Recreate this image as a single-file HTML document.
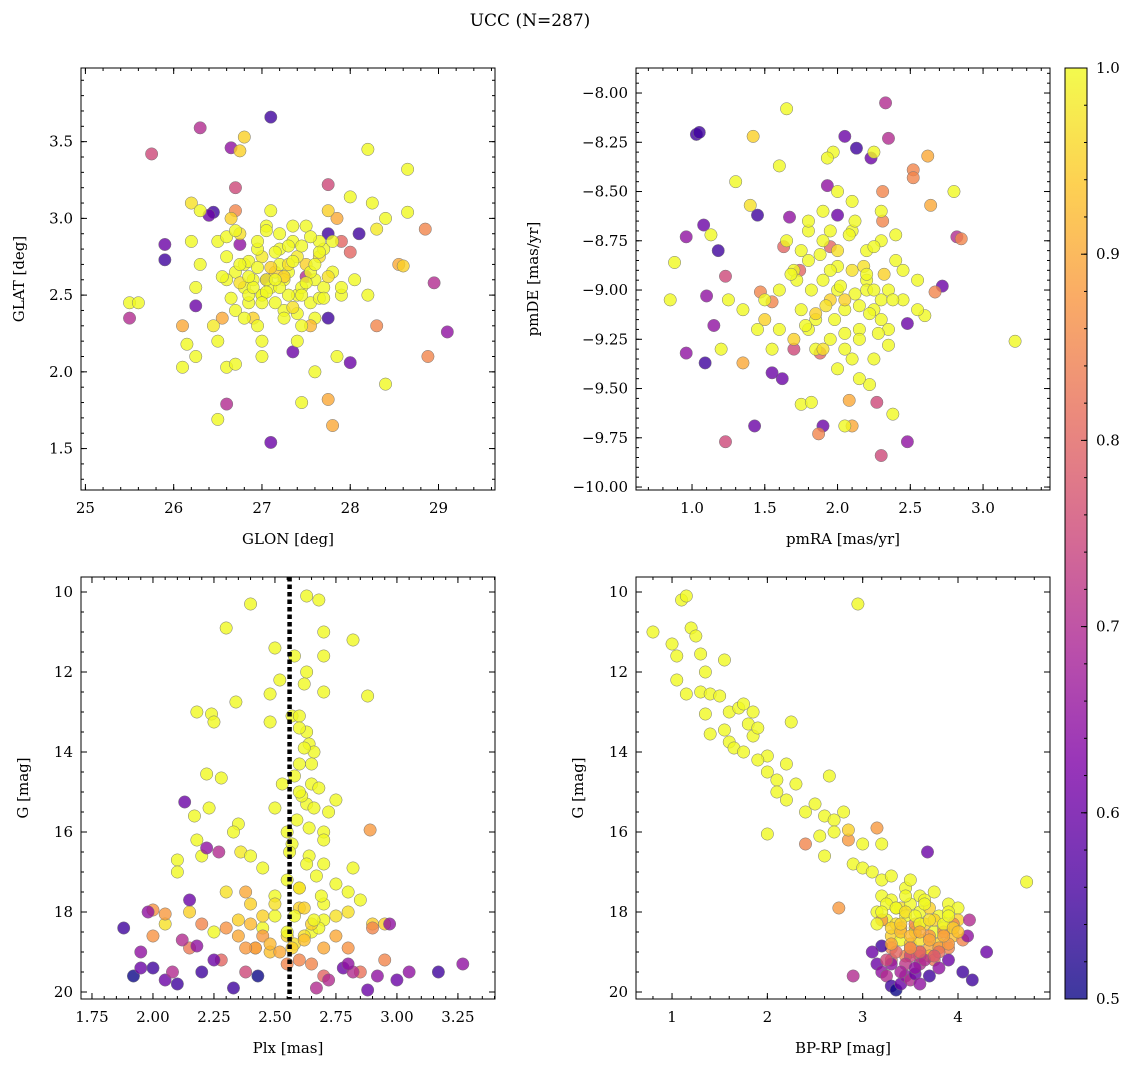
<!DOCTYPE html>
<html><head><meta charset="utf-8">
<style>
body{margin:0;background:#fff;}
svg{display:block;font-family:"DejaVu Serif","Liberation Serif",serif;}
</style></head>
<body>
<svg id="chart" width="1136" height="1067">
<text x="530" y="26" font-size="17" text-anchor="middle">UCC (N=287)</text>
<defs>
<linearGradient id="plasma" x1="0" y1="1" x2="0" y2="0">
<stop offset="0" stop-color="#0d0887"/><stop offset="0.125" stop-color="#4c02a1"/><stop offset="0.25" stop-color="#7e03a8"/><stop offset="0.375" stop-color="#a92395"/><stop offset="0.5" stop-color="#cc4778"/><stop offset="0.625" stop-color="#e66c5c"/><stop offset="0.75" stop-color="#f89540"/><stop offset="0.875" stop-color="#fdc527"/><stop offset="1" stop-color="#f0f921"/>
</linearGradient>
</defs>
<g id="panels"></g>
<rect x="1065" y="68" width="22" height="931" fill="url(#plasma)" opacity="0.8"/>
<rect x="1065" y="68" width="22" height="931" fill="none" stroke="#000" stroke-width="1"/>
<g id="cbar"></g>
</svg>
<script>
// ---- Panel 1: GLON vs GLAT ----
const p1x=[27.1,26.3,25.75,26.65,26.7,25.9,25.9,26.25,25.5,26.6,27.1,27.35,27.75,27.75,28.0,28.1,29.1,28.95,27.75,27.5,26.45,26.4,27.05,26.75,
28.3,28.85,28.88,27.8,27.75,26.1,28.0,27.9,26.55,26.7,27.85,28.55,
25.5,25.6,26.1,26.15,26.25,26.5,26.45,26.5,26.6,26.7,27.0,26.8,26.75,28.2,28.65,28.0,28.25,28.65,28.4,28.3,28.6,27.45,27.6,27.85,28.4,28.05,28.2,27.9,26.2,26.3,26.3,26.2,26.25,
26.7,26.8,26.9,27.0,27.1,27.2,27.3,27.4,27.5,27.6,27.7,26.75,26.85,26.95,27.05,27.15,27.25,27.35,27.45,27.55,27.65,27.8,26.6,26.9,27.0,27.2,27.3,27.4,27.6,27.7,26.65,26.8,27.1,27.25,27.5,27.75,26.95,27.15,27.35,27.55,26.7,27.0,27.2,27.45,27.65,26.85,27.05,27.3,26.6,27.9,26.5,27.0,27.4,27.8];
const p1y=[3.66,3.59,3.42,3.46,3.2,2.83,2.73,2.43,2.35,1.79,1.54,2.13,2.35,2.9,2.06,2.9,2.26,2.58,3.22,2.62,3.04,3.02,2.6,2.83,
2.3,2.93,2.1,1.65,1.82,2.3,2.78,2.85,2.35,3.05,3.0,2.7,
2.45,2.45,2.03,2.18,2.1,1.69,2.3,2.2,2.03,2.05,2.1,3.53,3.44,3.45,3.32,3.14,3.1,3.04,3.0,2.93,2.69,1.8,2.0,2.1,1.92,2.6,2.5,2.5,3.1,3.05,2.7,2.85,2.55,
2.65,2.7,2.6,2.75,2.55,2.8,2.65,2.5,2.7,2.6,2.55,2.9,2.45,2.8,2.95,2.65,2.4,2.85,2.55,2.45,2.75,2.65,2.6,2.35,2.5,2.9,2.5,2.75,2.35,2.8,3.0,2.55,3.05,2.6,2.95,3.05,2.3,2.45,2.95,2.3,2.4,2.2,2.7,2.3,2.85,2.5,2.6,2.7,2.75,2.55,2.85,2.5,2.2,2.85];
const p1p=[0.55,0.7,0.75,0.65,0.75,0.6,0.55,0.6,0.7,0.7,0.6,0.6,0.55,0.55,0.6,0.55,0.65,0.7,0.75,0.7,0.55,0.6,0.65,0.65,
0.85,0.85,0.85,0.9,0.9,0.9,0.8,0.8,0.9,0.85,0.9,0.9,
1,1,1,1,1,1,0.98,1,1,1,1,0.95,0.95,1,1,1,1,1,1,0.98,0.95,1,1,1,1,1,1,1,0.97,1,1,1,1,
1,1,1,0.98,1,1,1,1,0.95,1,1,0.97,1,1,1,0.95,1,1,1,1,0.97,1,1,0.95,1,1,1,0.98,1,1,0.95,1,1,1,1,0.95,1,1,1,0.92,1,1,1,1,1,1,1,0.97,1,1,1,1,1,1];
const p1xExtra=[26.55,26.65,26.75,26.85,26.95,27.05,27.15,27.25,27.35,27.45,27.55,27.65,27.75,26.6,26.7,26.8,26.9,27.0,27.1,27.2,27.3,27.4,27.5,27.6,27.7,26.95,27.15,27.35,26.75,27.55,27.25,27.05,26.85,27.45,27.65];
const p1yExtra=[2.62,2.48,2.58,2.72,2.68,2.52,2.78,2.62,2.72,2.82,2.65,2.48,2.62,2.88,2.92,2.35,2.55,2.45,2.68,2.55,2.82,2.38,2.58,2.7,2.48,2.85,2.6,2.42,2.7,2.88,2.35,2.92,2.62,2.5,2.78];
const p1pExtra=[1,1,0.97,1,1,1,1,0.95,1,1,1,1,0.97,1,1,1,1,1,0.95,1,1,1,1,1,1,1,1,0.97,1,1,1,1,1,1,1];

// ---- Panel 2: pmRA vs pmDE ----
const p2x=[1.03,1.05,2.33,2.05,2.13,2.23,2.35,1.08,0.96,1.1,1.15,1.09,0.96,1.62,1.55,1.45,1.67,1.93,2.0,2.48,2.48,1.9,2.72,2.82,1.43,1.23,1.23,2.27,2.3,1.18,1.7,
2.52,2.52,2.62,2.85,2.67,2.31,2.31,1.55,1.63,1.88,1.87,2.08,2.1,2.64,1.35,1.47,1.74,1.95,
1.65,1.42,1.6,1.97,1.93,2.25,2.8,0.85,0.88,1.13,1.2,1.3,1.4,3.22,2.55,2.6,2.55,2.05,1.75,2.38,2.22,1.82,
1.7,1.8,1.9,2.0,2.1,2.2,2.3,2.4,1.75,1.85,1.95,2.05,2.15,2.25,2.35,1.65,1.8,1.9,2.0,2.1,2.2,2.3,2.45,1.7,1.85,1.95,2.05,2.15,2.25,1.6,1.8,2.0,2.2,2.35,1.9,2.1,2.3,1.35,1.45,1.5,1.25,1.55,2.45,2.0,2.15];
const p2y=[-8.21,-8.2,-8.05,-8.22,-8.28,-8.33,-8.23,-8.67,-8.73,-9.03,-9.18,-9.37,-9.32,-9.45,-9.42,-8.62,-8.63,-8.47,-8.62,-9.17,-9.77,-9.69,-8.98,-8.73,-9.69,-8.93,-9.77,-9.57,-9.84,-8.8,-9.3,
-8.39,-8.43,-8.32,-8.74,-9.01,-8.5,-8.65,-9.06,-8.78,-9.32,-9.73,-9.56,-9.69,-8.57,-9.37,-9.01,-8.9,-8.78,
-8.08,-8.22,-8.37,-8.3,-8.33,-8.3,-8.5,-9.05,-8.86,-8.72,-9.3,-8.45,-8.57,-9.26,-8.95,-9.13,-9.1,-9.69,-9.58,-9.63,-9.48,-9.57,
-8.9,-8.85,-8.95,-9.0,-8.9,-8.95,-9.05,-8.85,-9.1,-9.15,-9.05,-9.1,-9.2,-9.1,-9.0,-8.75,-8.7,-8.75,-8.8,-8.7,-8.8,-8.75,-8.9,-9.25,-9.3,-9.25,-9.3,-9.25,-9.35,-9.0,-9.2,-9.4,-9.0,-9.2,-8.6,-8.55,-8.6,-9.1,-9.2,-9.15,-9.05,-9.3,-9.05,-8.5,-9.45];
const p2p=[0.55,0.55,0.7,0.6,0.55,0.6,0.7,0.6,0.65,0.65,0.65,0.55,0.65,0.6,0.6,0.55,0.65,0.65,0.6,0.6,0.65,0.6,0.6,0.7,0.6,0.75,0.75,0.75,0.75,0.55,0.75,
0.85,0.85,0.9,0.85,0.85,0.85,0.85,0.85,0.8,0.8,0.85,0.9,0.9,0.9,0.9,0.85,0.8,0.8,
1,0.95,1,1,1,1,1,1,1,1,1,1,0.97,1,1,1,1,1,1,1,1,1,
1,1,1,1,0.97,1,1,1,1,1,0.95,1,1,1,1,1,1,1,0.97,1,1,1,1,0.95,1,1,1,1,1,1,1,1,1,1,1,1,1,1,1,0.95,1,1,1,1,1];
const p2xExtra=[1.72,1.82,1.92,2.02,2.12,2.22,2.32,1.78,1.88,1.98,2.08,2.18,2.28,2.38,1.75,1.85,1.95,2.05,2.15,2.25,2.35,1.68,1.9,2.0,2.1,2.2,2.3,1.8,1.95,2.05,2.12,2.25,1.6,2.4,1.5];
const p2yExtra=[-8.95,-9.0,-9.08,-8.98,-9.02,-9.12,-8.92,-9.18,-8.82,-9.15,-8.72,-8.88,-9.22,-9.05,-8.8,-9.12,-8.7,-9.22,-9.08,-8.78,-9.28,-8.92,-9.3,-8.88,-9.35,-8.92,-9.15,-8.65,-8.9,-9.05,-8.65,-9.0,-9.2,-8.72,-9.05];
const p2pExtra=[1,1,0.97,1,1,1,0.95,1,1,1,1,0.97,1,1,1,0.95,1,1,1,1,1,1,0.97,1,1,1,1,1,1,0.95,1,1,1,1,1];

// ---- Panel 3: Plx vs G ----
const p3x=[2.63,2.68,2.4,2.3,2.7,2.5,2.58,2.7,2.82,2.52,2.63,2.62,2.7,2.48,2.88,2.34,2.18,2.24,2.25,2.48,2.57,2.6,2.63,2.64,2.66,2.6,2.22,2.28,2.53,2.65,2.63,2.75,2.72,2.17,2.23,2.5,2.35,2.7,2.18,2.1,2.2,2.33,2.36,2.4,2.1,2.82,2.57,2.64,2.7,2.55,
2.3,2.4,2.5,2.6,2.7,2.8,2.9,2.45,2.55,2.65,2.75,2.35,2.25,2.85,2.95,2.5,2.6,2.7,2.42,2.58,2.68,2.15,2.05,2.48,2.62,
2.89,2.38,2.0,2.05,2.2,2.3,2.45,2.75,2.9,2.8,2.0,2.28,2.55,2.65,2.7,2.85,2.6,2.42,2.95,2.15,
1.88,1.92,1.95,1.98,2.0,2.05,2.08,2.1,2.12,2.15,2.18,2.2,2.25,2.33,2.38,2.43,2.67,2.72,2.78,2.82,2.88,2.92,2.97,3.0,3.05,3.17,3.27,2.13,2.22,2.27,2.8,1.95];
const p3y=[10.1,10.2,10.3,10.9,11.0,11.4,11.6,11.6,11.2,12.2,12.0,12.3,12.5,12.55,12.6,12.75,13.0,13.05,13.25,13.25,13.1,13.1,13.5,13.8,14.0,14.3,14.55,14.65,14.8,14.8,15.3,15.2,15.5,15.6,15.4,15.4,15.8,16.0,16.2,16.7,16.6,16.0,16.5,16.6,17.0,16.9,16.3,16.6,16.8,17.2,
17.5,17.8,18.1,17.9,18.2,18.0,18.3,18.4,18.6,18.5,18.1,18.2,18.5,17.7,18.3,17.6,17.4,17.8,18.9,18.8,18.4,18.0,18.3,19.0,18.6,
15.95,17.5,17.95,18.05,18.3,18.4,18.6,18.6,18.4,18.9,18.6,19.2,19.3,19.3,19.6,19.5,19.2,18.9,19.2,18.9,
18.4,19.6,19.0,18.0,19.4,19.7,19.5,19.8,18.7,17.7,18.85,19.5,19.2,19.9,19.5,19.6,19.9,19.7,19.4,19.5,19.95,19.6,18.3,19.7,19.5,19.5,19.3,15.25,16.4,16.5,19.3,19.4];
const p3p=[1,1,1,1,1,1,1,1,1,1,1,1,1,1,1,1,1,1,1,1,1,1,1,1,1,1,1,1,1,1,1,1,1,1,1,1,1,1,1,1,1,1,0.98,1,1,1,1,1,1,1,
0.97,0.95,1,0.95,1,0.97,0.95,1,0.95,1,0.97,0.95,1,1,0.95,1,1,1,0.93,0.97,1,0.95,0.97,0.93,0.97,
0.88,0.9,0.87,0.88,0.85,0.87,0.88,0.9,0.85,0.87,0.87,0.8,0.85,0.85,0.8,0.82,0.85,0.88,0.85,0.83,
0.55,0.5,0.65,0.65,0.55,0.6,0.7,0.55,0.7,0.6,0.65,0.55,0.6,0.55,0.75,0.5,0.7,0.7,0.6,0.7,0.6,0.65,0.65,0.6,0.65,0.55,0.65,0.6,0.65,0.7,0.65,0.6];
const p3xExtra=[2.6,2.62,2.65,2.58,2.68,2.61,2.66,2.59,2.64,2.7,2.56,2.63,2.67,2.6,2.69,2.62,2.58,2.65,2.5,2.45,2.4,2.35,2.55,2.62,2.7,2.52,2.48,2.57,2.66,2.75,2.8,2.6,2.45,2.55,2.38];
const p3yExtra=[13.4,13.9,14.3,14.6,14.9,15.1,15.4,15.7,15.9,16.2,16.5,16.8,17.1,17.4,17.6,17.9,18.1,18.3,17.8,18.1,18.3,18.6,18.5,18.7,18.9,19.0,18.8,18.9,18.2,17.3,17.5,15.0,16.9,16.0,18.9];
const p3pExtra=[1,1,1,1,1,1,1,1,1,1,1,1,1,0.97,1,0.95,1,0.95,0.97,0.95,0.92,0.9,1,0.93,0.9,0.9,0.92,0.95,1,1,1,1,1,1,0.88];

// ---- Panel 4: BP-RP vs G ----
const p4x=[0.8,1.0,1.05,1.1,1.15,1.2,1.25,1.05,1.15,1.3,1.35,1.3,1.4,1.5,1.55,1.6,1.35,1.4,1.55,1.7,1.75,1.8,1.85,1.6,1.65,1.75,1.85,1.9,2.0,2.25,2.95,1.9,2.0,2.1,2.2,2.1,2.2,2.3,2.4,2.5,2.65,2.6,2.7,2.8,2.0,2.4,2.55,2.6,2.7,2.85,2.85,3.0,3.15,3.2,2.9,3.0,3.1,3.2,3.3,3.45,3.5,3.6,3.75,3.9,4.0,4.72,
3.2,3.3,3.4,3.5,3.6,3.7,3.8,3.9,4.0,3.25,3.35,3.45,3.55,3.65,3.75,3.85,3.95,3.3,3.4,3.5,3.6,3.7,3.8,3.35,3.45,3.55,3.65,3.15,3.5,3.7,
3.3,3.45,3.6,3.75,3.9,4.05,3.2,3.4,3.55,3.7,3.85,3.5,2.75,3.3,3.6,3.95,
3.2,3.15,3.2,3.25,3.3,3.35,3.4,3.45,3.5,3.55,3.6,3.7,3.8,3.9,4.05,4.15,4.3,2.9,3.1,3.3,3.6,3.68,4.1,4.12];
const p4y=[11.0,11.3,11.6,10.2,10.1,10.9,11.1,12.2,12.55,11.55,12.0,12.5,12.55,12.6,11.7,13.0,13.05,13.55,13.45,12.9,12.8,13.3,13.0,13.75,13.9,14.0,13.6,13.4,14.1,13.25,10.3,14.2,14.5,14.7,14.3,15.0,15.2,14.8,15.5,15.3,14.6,15.6,15.7,15.5,16.05,16.3,16.1,16.6,16.0,16.2,15.95,16.3,15.9,16.3,16.8,16.9,17.0,17.2,17.1,17.4,17.2,17.6,17.5,17.8,17.9,17.25,
17.6,17.7,17.9,17.8,18.0,17.9,18.1,18.0,18.2,18.2,18.3,18.1,18.4,18.3,18.5,18.4,18.6,18.6,18.7,18.8,18.7,18.9,18.8,17.9,17.6,18.5,17.7,18.0,19.0,19.1,
18.9,19.1,19.0,19.2,18.9,18.7,18.2,18.4,18.3,18.6,18.5,18.9,17.9,19.2,19.1,18.3,
18.85,19.3,19.5,19.6,19.85,19.95,19.8,19.6,19.7,19.55,19.8,19.6,19.4,19.2,19.5,19.7,19.0,19.6,19.0,19.3,19.3,16.5,18.6,18.2];
const p4p=[1,1,1,1,1,1,1,1,1,1,1,1,1,1,1,1,1,1,1,1,1,1,1,1,1,1,1,1,1,1,1,1,1,1,1,1,1,1,1,1,1,1,1,1,1,0.85,1,1,1,0.88,0.95,1,0.88,1,1,1,1,1,1,1,1,1,1,1,1,1,
1,1,0.97,1,1,0.95,1,1,0.95,1,0.97,1,1,0.95,1,0.97,0.93,0.95,1,0.93,0.97,0.9,0.95,1,1,0.97,1,1,0.9,0.93,
0.85,0.85,0.85,0.83,0.85,0.85,0.88,0.87,0.85,0.87,0.85,0.8,0.88,0.8,0.82,0.85,
0.55,0.6,0.65,0.7,0.55,0.5,0.6,0.65,0.7,0.6,0.65,0.55,0.65,0.6,0.55,0.55,0.6,0.7,0.6,0.65,0.7,0.6,0.65,0.7];
const p4xExtra=[3.25,3.35,3.45,3.55,3.65,3.75,3.85,3.95,3.3,3.4,3.5,3.6,3.7,3.8,3.9,3.2,3.35,3.5,3.65,3.8,3.45,3.55,3.25,3.4,3.6,3.75,3.9,4.0,3.3,3.5,3.7,3.15,3.4,3.6,3.85];
const p4yExtra=[17.8,17.9,18.0,18.1,17.8,18.2,18.3,18.4,18.4,18.5,18.6,18.3,18.7,18.9,18.1,18.0,19.0,19.1,19.2,19.0,19.3,19.4,19.2,19.5,19.0,19.1,18.8,18.5,18.8,18.9,18.2,18.3,18.3,18.5,18.6];
const p4pExtra=[1,1,0.97,1,1,0.95,1,0.95,0.95,0.93,0.92,1,0.9,0.88,1,1,0.8,0.75,0.7,0.82,0.72,0.65,0.75,0.68,0.8,0.78,0.88,0.93,0.9,0.87,0.97,1,0.95,0.9,0.9];

const cbarTicks=[0.5,0.6,0.7,0.8,0.9,1.0];

const NS="http://www.w3.org/2000/svg";
const stops=[[13,8,135],[76,2,161],[126,3,168],[169,35,149],[204,71,120],[230,108,92],[248,149,64],[253,197,39],[240,249,33]];
function plasma(p){if(typeof p!=='number'||isNaN(p))p=1;let t=Math.max(0,Math.min(1,(p-0.5)/0.5))*8;let i=Math.min(7,Math.floor(t)),f=t-i;
const a=stops[i],b=stops[i+1];return `rgb(${a.map((v,k)=>Math.round(v+(b[k]-v)*f)).join(',')})`;}
function mk(tag,attrs,parent){const e=document.createElementNS(NS,tag);for(const k in attrs)e.setAttribute(k,attrs[k]);parent.appendChild(e);return e;}
const root=document.getElementById('panels');

function panel(o){
  const g=mk('g',{},root);
  
  
  const sx=v=>o.x0+(v-o.dx[0])/(o.dx[1]-o.dx[0])*(o.x1-o.x0);
  const sy=v=>o.y1-(v-o.dy[0])/(o.dy[1]-o.dy[0])*(o.y1-o.y0);
  const pts=mk('g',{},g);
  
  
  const n=Math.min(o.xs.length,o.ys.length);
  for(let i=0;i<n;i++){
    const c=mk('circle',{cx:sx(o.xs[i]),cy:sy(o.ys[i]),r:6.2,fill:plasma(o.ps[i]),'fill-opacity':0.8,stroke:'#777','stroke-width':0.5},pts);
    
    
  }
  if(o.vline!==undefined){
    const l=mk('line',{x1:sx(o.vline),x2:sx(o.vline),y1:o.y0,y2:o.y1,stroke:'#000','stroke-width':4.5,'stroke-dasharray':'4.5,3'},g);
    
    
  }
  const fr=mk('rect',{x:o.x0,y:o.y0,width:o.x1-o.x0,height:o.y1-o.y0,fill:'none',stroke:'#000','stroke-width':1},g);
  
  
  const tk=mk('g',{stroke:'#000','stroke-width':1},g);
  
  
  const eps=1e-9;
  for(let v=Math.ceil(o.dx[0]/o.xmin-eps)*o.xmin;v<=o.dx[1]+eps;v+=o.xmin){const X=sx(v);mk('line',{x1:X,x2:X,y1:o.y1,y2:o.y1-3},tk);mk('line',{x1:X,x2:X,y1:o.y0,y2:o.y0+3},tk);}
  for(let v=Math.ceil(o.dy[0]/o.ymin-eps)*o.ymin;v<=o.dy[1]+eps;v+=o.ymin){const Y=sy(v);mk('line',{x1:o.x0,x2:o.x0+3,y1:Y,y2:Y},tk);mk('line',{x1:o.x1,x2:o.x1-3,y1:Y,y2:Y},tk);}
  o.xt.forEach(v=>{const X=sx(v);mk('line',{x1:X,x2:X,y1:o.y1,y2:o.y1-6},tk);mk('line',{x1:X,x2:X,y1:o.y0,y2:o.y0+6},tk);
    const t=mk('text',{x:X,y:o.y1+23,'font-size':15,'text-anchor':'middle'},g);t.textContent=v.toFixed(o.xd).replace('-','\u2212');
    });
  o.yt.forEach(v=>{const Y=sy(v);mk('line',{x1:o.x0,x2:o.x0+6,y1:Y,y2:Y},tk);mk('line',{x1:o.x1,x2:o.x1-6,y1:Y,y2:Y},tk);
    const t=mk('text',{x:o.x0-8,y:Y+5,'font-size':15,'text-anchor':'end'},g);t.textContent=(o.neg?Math.abs(v):v).toFixed(o.yd).replace('-','\u2212');
    });
  const xl=mk('text',{x:(o.x0+o.x1)/2,y:o.y1+54,'font-size':15,'text-anchor':'middle'},g);xl.textContent=o.xlabel;
  
  const yx=o.ylx,yy=(o.y0+o.y1)/2;
  const yl=mk('text',{x:yx,y:yy,'font-size':15,'text-anchor':'middle',transform:`rotate(-90 ${yx} ${yy})`},g);yl.textContent=o.ylabel;
  
}
const r=(a,b,s)=>{const o=[];for(let v=a;v<=b+1e-9;v+=s)o.push(+v.toFixed(4));return o;};
panel({name:'glon-glat-panel',x0:81,x1:495,y0:68,y1:490,dx:[24.95,29.64],dy:[1.23,3.98],xs:p1x.concat(p1xExtra),ys:p1y.concat(p1yExtra),ps:p1p.concat(p1pExtra),xt:r(25,29,1),yt:r(1.5,3.5,0.5),xd:0,yd:1,xmin:0.2,ymin:0.1,xlabel:'GLON [deg]',ylabel:'GLAT [deg]',ylx:24});
panel({name:'pm-panel',x0:636,x1:1050,y0:68,y1:490,dx:[0.615,3.46],dy:[-10.015,-7.873],xs:p2x.concat(p2xExtra),ys:p2y.concat(p2yExtra),ps:p2p.concat(p2pExtra),xt:r(1,3,0.5),yt:r(-10,-8,0.25),xd:1,yd:2,xmin:0.1,ymin:0.05,xlabel:'pmRA [mas/yr]',ylabel:'pmDE [mas/yr]',ylx:538});
panel({name:'plx-g-panel',x0:81,x1:495,y0:577,y1:999,dx:[1.705,3.402],dy:[-20.175,-9.625],xs:p3x.concat(p3xExtra),ys:p3y.concat(p3yExtra).map(v=>-v),ps:p3p.concat(p3pExtra),xt:r(1.75,3.25,0.25),yt:r(-20,-10,2),xd:2,yd:0,xmin:0.05,ymin:0.5,xlabel:'Plx [mas]',ylabel:'G [mag]',ylx:28,vline:2.56,neg:true});
panel({name:'cmd-panel',x0:636,x1:1050,y0:577,y1:999,dx:[0.622,4.965],dy:[-20.175,-9.625],xs:p4x.concat(p4xExtra),ys:p4y.concat(p4yExtra).map(v=>-v),ps:p4p.concat(p4pExtra),xt:r(1,4,1),yt:r(-20,-10,2),xd:0,yd:0,xmin:0.2,ymin:0.5,xlabel:'BP-RP [mag]',ylabel:'G [mag]',ylx:583,neg:true});
// colorbar
const cb=document.getElementById('cbar');
cbarTicks.forEach(v=>{const Y=999-(v-0.5)/0.5*931;
  mk('line',{x1:1087,x2:1081,y1:Y,y2:Y,stroke:'#000'},cb);
  const t=mk('text',{x:1096,y:Y+5,'font-size':15},cb);t.textContent=v.toFixed(1);
  });
for(let v=0.5;v<=1.0001;v+=0.02){const Y=999-(v-0.5)/0.5*931;mk('line',{x1:1087,x2:1084,y1:Y,y2:Y,stroke:'#000'},cb);}
</script>
</body></html>
